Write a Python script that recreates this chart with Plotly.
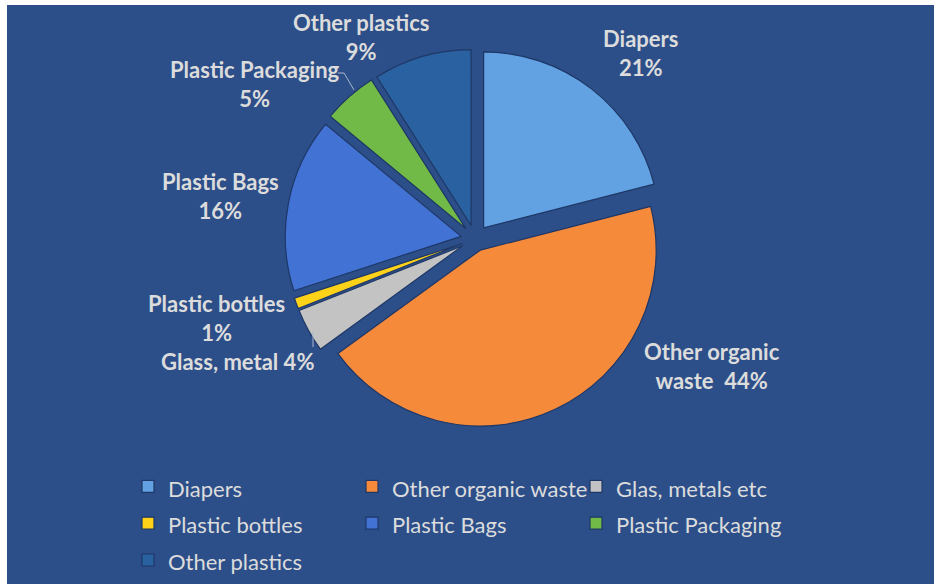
import plotly.graph_objects as go

# ---- data ----
categories = ["Diapers", "Other organic waste", "Glas, metals etc", "Plastic bottles",
              "Plastic Bags", "Plastic Packaging", "Other plastics"]
values = [21, 44, 4, 1, 16, 5, 9]
slice_labels = ["Diapers<br>21%", "Other organic<br>waste  44%", "Glass, metal 4%",
                "Plastic bottles<br>1%", "Plastic Bags<br>16%", "Plastic Packaging<br>5%",
                "Other plastics<br>9%"]

# ---- styles ----
colors = ["#62A2E2", "#F68A3B", "#C3C3C3", "#FFD21A", "#4272D4", "#72BA47", "#2A61A0"]
pulls = [0.08, 0.07, 0.08, 0.08, 0.08, 0.08, 0.08]
label_pos = [(640, 53), (712, 366), (237, 361), (217, 318), (220, 196), (255, 84), (361, 37)]
BG = "rgb(45,79,137)"
TXT = "#DCDCDC"
W, H = 934, 584
R = 200               # right margin (keeps legend at 3 columns)
PW = W - R            # plot-area width in px


def px(x):
    return x / PW


def py(y):
    return 1 - y / H


legend_names = [f"<span style='font-size:22px'>{c}</span>" for c in categories]

fig = go.Figure()
fig.add_trace(go.Pie(
    labels=legend_names, values=values, sort=False, direction="clockwise", rotation=0,
    pull=pulls, textinfo="none", hoverinfo="label+percent",
    marker=dict(colors=colors, line=dict(color="#1E3766", width=1.2)),
    domain=dict(x=[px(285), px(665)], y=[py(429), py(49)]),
))

annotations = []
for txt, (x, y) in zip(slice_labels, label_pos):
    annotations.append(dict(
        text=txt, x=px(x), y=py(y), xref="paper", yref="paper",
        showarrow=False, xanchor="center", yanchor="middle",
        font=dict(family="Lato", size=22, color=TXT, weight="bold"),
    ))

shapes = [
    dict(type="rect", xref="paper", yref="paper", x0=0, x1=px(7), y0=0, y1=1,
         fillcolor="white", line=dict(width=0), layer="below"),
    dict(type="rect", xref="paper", yref="paper", x0=0, x1=W / PW, y0=py(5), y1=1,
         fillcolor="white", line=dict(width=0), layer="below"),
    dict(type="path", xref="paper", yref="paper",
         path=f"M {px(338)},{py(73)} L {px(344)},{py(73)} L {px(354)},{py(90)}",
         line=dict(color="#A9B6CC", width=1)),
    dict(type="line", xref="paper", yref="paper", x0=px(313), x1=px(313),
         y0=py(332), y1=py(347), line=dict(color="#A9B6CC", width=1)),
]

fig.update_layout(
    width=W, height=H,
    margin=dict(l=0, r=R, t=0, b=0, autoexpand=False),
    paper_bgcolor=BG, plot_bgcolor=BG,
    annotations=annotations, shapes=shapes,
    showlegend=True,
    legend=dict(orientation="h", x=px(128), xanchor="left", y=py(463), yanchor="top",
                entrywidth=179, entrywidthmode="pixels", itemclick=False,
                font=dict(family="Lato", size=26, color=TXT), bgcolor="rgba(0,0,0,0)",
                traceorder="normal"),
)

fig.write_html("out.html", config={"displayModeBar": False},
               post_script="document.body.style.margin='0';document.body.style.overflow='hidden';")
